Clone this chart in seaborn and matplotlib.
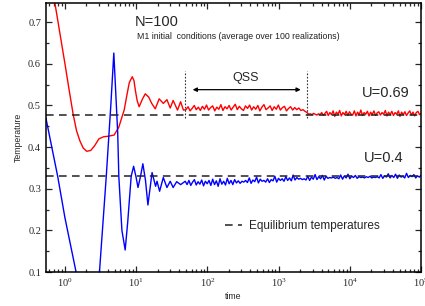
import matplotlib
matplotlib.use("Agg")
import matplotlib.pyplot as plt
from matplotlib.ticker import MultipleLocator
import seaborn as sns
import numpy as np
import pandas as pd

# early transient of U=0.69 (red)
red_t = [0.70, 1.0, 1.15, 1.3, 1.45, 1.62, 1.8, 2.02, 2.3, 2.6, 3.0, 3.5, 4.0, 4.9, 5.7,
         6.8, 7.4, 8.0, 8.8, 9.3, 9.7, 10.3, 11, 12.2, 13.4, 15, 16.5, 18.5, 21, 24, 27,
         30, 33, 38, 42, 46]
red_T = [0.76, 0.60, 0.535, 0.48, 0.44, 0.415, 0.398, 0.390, 0.392, 0.403, 0.420, 0.425,
         0.426, 0.429, 0.448, 0.49, 0.525, 0.555, 0.569, 0.560, 0.538, 0.512, 0.497, 0.515,
         0.528, 0.52, 0.505, 0.492, 0.516, 0.505, 0.514, 0.494, 0.512, 0.489, 0.509, 0.489]
# noisy plateau, QSS part (t = 50 .. 2500) and after (t = 2500 .. 1e5)
red_qss = [0.490, 0.497, 0.487, 0.493, 0.500, 0.490, 0.496, 0.488, 0.498, 0.491,
           0.501, 0.489, 0.495, 0.499, 0.487, 0.496, 0.491, 0.502, 0.488, 0.497,
           0.492, 0.500, 0.489, 0.496, 0.503, 0.490, 0.498, 0.492, 0.488, 0.499,
           0.493, 0.501, 0.489, 0.497, 0.491, 0.500, 0.487, 0.496, 0.502, 0.490,
           0.494, 0.499, 0.488, 0.497, 0.491, 0.501, 0.489, 0.495, 0.498, 0.487,
           0.493, 0.497, 0.489, 0.495, 0.490, 0.494, 0.488, 0.490, 0.486, 0.483]
red_late = [0.479, 0.480, 0.478, 0.481, 0.479, 0.477, 0.480, 0.478, 0.483, 0.476,
            0.481, 0.486, 0.476, 0.483, 0.478, 0.487, 0.474, 0.484, 0.479, 0.488,
            0.475, 0.483, 0.478, 0.486, 0.476, 0.485, 0.479, 0.477, 0.487, 0.475,
            0.484, 0.478, 0.489, 0.476, 0.483, 0.479, 0.486, 0.475, 0.484, 0.478,
            0.487, 0.476, 0.482, 0.485, 0.477, 0.483, 0.479, 0.488, 0.475, 0.484,
            0.478, 0.486, 0.476, 0.483, 0.479, 0.487, 0.474, 0.484, 0.478, 0.485,
            0.476, 0.482, 0.487, 0.477, 0.484, 0.475, 0.483, 0.486, 0.478, 0.481]

# early transient of U=0.4 (blue)
blue_t = [0.54, 0.79, 1.0, 1.43, 1.6, 2.0, 2.5, 3.05, 3.8, 4.4, 4.85, 5.2, 5.5, 5.7,
          6.3, 7.0, 7.6, 8.5, 9.2, 9.9, 10.6, 11.5, 12.4, 13.5, 14.6, 15.6, 16.7, 18.7,
          19.6, 21.3, 24, 27, 30, 33, 37, 42]
blue_T = [0.47, 0.33, 0.23, 0.10, 0.06, 0.00, 0.03, 0.10, 0.33, 0.50, 0.626, 0.52, 0.434,
          0.33, 0.20, 0.153, 0.22, 0.33, 0.354, 0.33, 0.303, 0.33, 0.36, 0.32, 0.261, 0.30,
          0.339, 0.306, 0.318, 0.294, 0.327, 0.303, 0.318, 0.303, 0.317, 0.31]
# noisy plateau, t = 46 .. 1e5
blue_noise = [0.318, 0.310, 0.320, 0.308, 0.316, 0.322, 0.309, 0.317, 0.311, 0.321,
              0.307, 0.318, 0.312,
              0.320, 0.308, 0.323, 0.310, 0.319, 0.306, 0.324, 0.311, 0.318, 0.309,
              0.325, 0.312, 0.320, 0.310, 0.322, 0.314, 0.319, 0.313, 0.318, 0.316,
              0.320, 0.315, 0.326, 0.313, 0.321, 0.317, 0.328, 0.314, 0.323, 0.318,
              0.320, 0.316, 0.324, 0.315, 0.322, 0.319, 0.330, 0.316, 0.325, 0.320,
              0.324, 0.318, 0.329, 0.320, 0.326, 0.319, 0.333, 0.321, 0.327, 0.323,
              0.325, 0.322, 0.324, 0.321, 0.330, 0.320, 0.328, 0.323, 0.334, 0.322,
              0.329, 0.324, 0.332, 0.321, 0.330, 0.325, 0.327, 0.326, 0.328, 0.325,
              0.327, 0.324, 0.333, 0.323, 0.331, 0.326, 0.335, 0.324, 0.330, 0.327,
              0.332, 0.325, 0.329, 0.327, 0.328, 0.326, 0.329, 0.327, 0.330, 0.326,
              0.328, 0.327, 0.329, 0.326, 0.334, 0.325, 0.331, 0.328, 0.336, 0.326,
              0.332, 0.327, 0.335, 0.325, 0.333, 0.328, 0.330, 0.326, 0.337, 0.327,
              0.332, 0.329, 0.334, 0.326, 0.331, 0.328, 0.333]

T_eq = [0.476, 0.330]          # equilibrium temperatures
qss_start, qss_end = 49, 2470  # QSS window

# sample times of the noisy parts
red_t_all = red_t + list(np.geomspace(50, 2500, len(red_qss))) + \
    list(np.geomspace(2500, 1e5, len(red_late) + 1)[1:])
red_T_all = red_T + red_qss + red_late
blue_t_all = blue_t + list(np.geomspace(46, 1e5, len(blue_noise) + 1)[1:])
blue_T_all = blue_T + blue_noise

df_red = pd.DataFrame({"time": red_t_all, "T": red_T_all})
df_blue = pd.DataFrame({"time": blue_t_all, "T": blue_T_all})

sns.set_style("ticks")
plt.rcParams["font.family"] = ["Liberation Sans", "DejaVu Sans"]
plt.rcParams["mathtext.fontset"] = "stix"

fig = plt.figure(figsize=(4.25, 3.06), dpi=100)
ax = fig.add_axes([0.108, 0.111, 0.883, 0.879])

sns.lineplot(data=df_red, x="time", y="T", color="red", lw=1.0,
             estimator=None, sort=False, ax=ax)
sns.lineplot(data=df_blue, x="time", y="T", color="blue", lw=1.0,
             estimator=None, sort=False, ax=ax)

for i, teq in enumerate(T_eq):
    ax.axhline(teq, color="#222222", lw=1.1, ls=(0, (5, 3.5)),
               label="Equilibrium temperatures" if i == 0 else None)

for tq in (qss_start, qss_end):
    ax.plot([tq, tq], [0.470, 0.583], color="#333333", lw=0.8, ls=(0, (1.5, 1.5)))
ax.annotate("", xy=(2040, 0.538), xytext=(62, 0.538),
            arrowprops=dict(arrowstyle="<|-|>", color="black", lw=0.9,
                            mutation_scale=6, shrinkA=0, shrinkB=0))
ax.text(343, 0.567, "QSS", fontsize=9, ha="center", va="center")

ax.text(0.237, 0.929, "N=100", transform=ax.transAxes, fontsize=10.5, va="center")
ax.text(0.243, 0.874, "M1 initial  conditions (average over 100 realizations)",
        transform=ax.transAxes, fontsize=6.3, va="center", color="#222222")
ax.text(0.843, 0.665, "U=0.69", transform=ax.transAxes, fontsize=10.5, va="center")
ax.text(0.848, 0.425, "U=0.4", transform=ax.transAxes, fontsize=10.5, va="center")

ax.legend(loc="center left", bbox_to_anchor=(0.45, 0.171), frameon=False,
          fontsize=8.5, handlelength=1.4, handletextpad=0.6)

ax.set_xscale("log")
ax.set_xlim(0.54, 1e5)
ax.set_ylim(0.1, 0.746)
ax.yaxis.set_major_locator(MultipleLocator(0.1))
ax.yaxis.set_minor_locator(MultipleLocator(0.05))
ax.tick_params(which="both", direction="in", top=True, right=True, width=0.9)
ax.tick_params(which="major", length=4.5)
ax.tick_params(which="minor", length=2.5)
for lab in ax.get_xticklabels() + ax.get_yticklabels():
    lab.set_family("Liberation Serif")
    lab.set_fontsize(7.5)
for sp in ax.spines.values():
    sp.set_linewidth(1.1)
    sp.set_color("black")

ax.set_xlabel("time", fontsize=6.3, labelpad=2)
ax.set_ylabel("Temperature", fontsize=6.3, labelpad=4)

fig.savefig("out.png", dpi=100)
